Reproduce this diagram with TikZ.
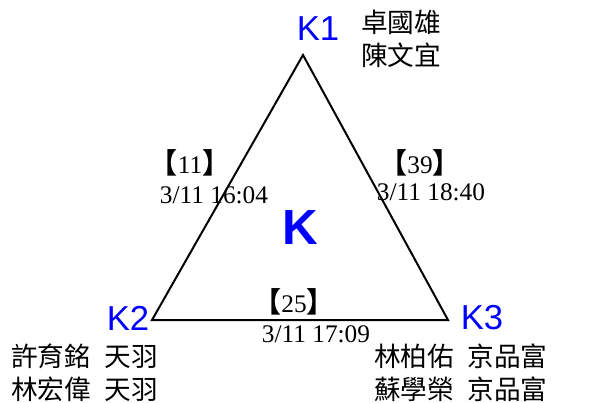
\documentclass[tikz,border=0pt]{standalone}
\usepackage{fontspec}
\setmainfont{Liberation Serif}
\newfontfamily\cjk{Noto Sans CJK TC}
\newfontfamily\kfont{Liberation Sans}
\usetikzlibrary{positioning}

\tikzset{
    vertex/.style={text=blue, font=\kfont\fontsize{26}{28}\selectfont, inner sep=0pt},
    names/.style={font=\cjk\fontsize{20}{24.75}\selectfont, align=left, inner sep=0pt, anchor=west},
    count/.style={font=\fontsize{19}{21}\selectfont, inner sep=0pt},
    stamp/.style={font=\fontsize{19}{21}\selectfont, inner sep=0pt}
}
\newcommand{\lbr}{{\cjk\bfseries\fontsize{21}{22}\selectfont 【}}
\newcommand{\rbr}{{\cjk\bfseries\fontsize{21}{22}\selectfont 】}}

\begin{document}
\begin{tikzpicture}[x=0.75pt, y=-0.75pt]
    \useasboundingbox (0,0) rectangle (607,403);

    % Triangle corners
    \coordinate (c1) at (303,55);
    \coordinate (c2) at (152,320);
    \coordinate (c3) at (448,320);
    \draw[line width=1.5pt, line join=miter] (c1) -- (c2) -- (c3) -- cycle;

    % Corner labels
    \node[vertex] (k1) at (318,29) {K1};
    \node[vertex] (k2) at (128,318) {K2};
    \node[vertex] (k3) at (482,318) {K3};
    \node[text=blue, font=\kfont\bfseries\fontsize{37}{40}\selectfont, inner sep=0pt] (kk) at (300,228) {K};

    % Members
    \node[names] (n1) at (361,39) {卓國雄\\陳文宜};
    \node[names] (n2) at (11,373) {許育銘\hspace{0.5em}天羽\\林宏偉\hspace{0.5em}天羽};
    \node[names] (n3) at (374,373) {林柏佑\hspace{0.5em}京品富\\蘇學榮\hspace{0.5em}京品富};

    % Edge counts and times
    \node[count] (e12) at (190,163) {\lbr11\rbr};
    \node[stamp] (t12) at (214,195) {3/11 16:04};
    \node[count] (e13) at (420,163) {\lbr39\rbr};
    \node[stamp] (t13) at (431,192) {3/11 18:40};
    \node[count] (e23) at (294,302) {\lbr25\rbr};
    \node[stamp] (t23) at (316,334) {3/11 17:09};

\end{tikzpicture}
\end{document}
